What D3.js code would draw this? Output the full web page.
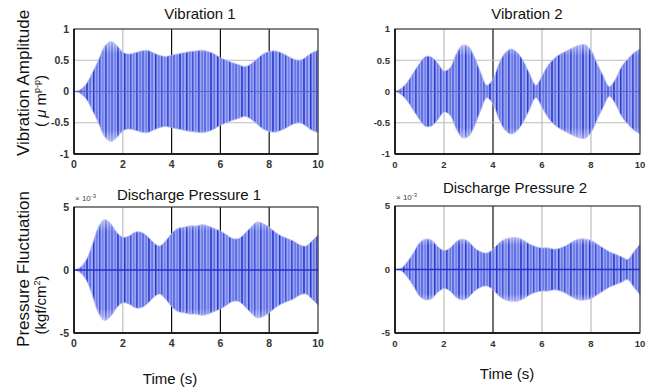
<!DOCTYPE html>
<html>
<head>
<meta charset="utf-8">
<script src="https://cdn.jsdelivr.net/npm/d3@7"></script>
<style>
body { margin: 0; background: #fff; }
svg text { font-family: "Liberation Sans", Arial, sans-serif; }
</style>
</head>
<body>
<svg width="650" height="390"></svg>
<script>
// sample times (s) at which the envelopes were read
var times = [0,0.25,0.5,0.75,1,1.25,1.5,1.75,2,2.25,2.5,2.75,3,3.25,3.5,3.75,4,4.25,4.5,4.75,
             5,5.25,5.5,5.75,6,6.25,6.5,6.75,7,7.25,7.5,7.75,8,8.25,8.5,8.75,9,9.25,9.5,9.75,10];

// envelope amplitude of each signal
var vib1 = [0,0.03,0.12,0.3,0.5,0.72,0.8,0.74,0.63,0.6,0.62,0.65,0.66,0.62,0.58,0.56,0.58,0.6,0.62,0.64,
            0.65,0.66,0.64,0.6,0.54,0.5,0.46,0.43,0.4,0.44,0.52,0.6,0.64,0.65,0.62,0.57,0.52,0.5,0.55,0.62,0.66];
var vib2 = [0,0.05,0.15,0.3,0.45,0.56,0.55,0.45,0.33,0.38,0.6,0.74,0.72,0.55,0.3,0.1,0.2,0.45,0.62,0.68,
            0.62,0.48,0.28,0.1,0.25,0.42,0.53,0.6,0.65,0.7,0.74,0.75,0.66,0.45,0.25,0.08,0.2,0.4,0.52,0.62,0.68];
var dp1 = [0,0.2,0.8,2.0,3.4,4.0,3.7,3.0,2.6,2.7,3.0,3.0,2.7,2.2,1.9,2.3,2.9,3.3,3.4,3.5,
           3.5,3.6,3.5,3.3,3.1,2.8,2.5,2.5,2.9,3.4,3.8,3.7,3.4,3.0,2.7,2.5,2.3,2.0,1.9,2.3,2.8];
var dp2 = [0,0.1,0.6,1.3,2.1,2.4,2.3,1.8,1.5,1.7,2.2,2.4,2.2,1.7,1.4,1.3,1.6,2.1,2.4,2.5,
           2.5,2.3,2.0,1.8,1.7,1.7,1.6,1.7,1.9,2.2,2.4,2.4,2.3,2.0,1.7,1.4,1.2,1.0,0.8,1.4,2.0];

var xTicks = [0, 2, 4, 6, 8, 10];
var vibTicks = [1, 0.5, 0, -0.5, -1];
var vibTickLabels = ["1", "0.5", "0", "-0.5", "-1"];
var dpTicks = [5, 0, -5];
var dpTickLabels = ["5", "0", "-5"];

var svg = d3.select("svg");

// oscillation texture: light band with irregular dark stripes
var defs = svg.append("defs");
var pat = defs.append("pattern").attr("id", "osc")
    .attr("patternUnits", "userSpaceOnUse").attr("width", 31).attr("height", 10);
pat.append("rect").attr("width", 31).attr("height", 10).attr("fill", "#9ba6f2");
var stripes = [[0.8, 1, 1.3], [3.9, 0.55, 1], [6.8, 0.85, 1.2], [9.9, 0.45, 1], [12.9, 0.95, 1.3],
               [16.1, 0.6, 1], [19.0, 0.8, 1.1], [22.1, 0.5, 1], [25.0, 1, 1.4], [28.1, 0.65, 1]];
stripes.forEach(function(s) {
  pat.append("line").attr("x1", s[0]).attr("x2", s[0]).attr("y1", 0).attr("y2", 10)
      .attr("stroke", "#1627cc").attr("stroke-width", s[2]).attr("opacity", s[1]);
});
var fade = defs.append("linearGradient").attr("id", "fade")
    .attr("x1", 0).attr("x2", 0).attr("y1", 0).attr("y2", 1);
fade.append("stop").attr("offset", "0%").attr("stop-color", "#fff").attr("stop-opacity", 0.45);
fade.append("stop").attr("offset", "12%").attr("stop-color", "#fff").attr("stop-opacity", 0);
fade.append("stop").attr("offset", "88%").attr("stop-color", "#fff").attr("stop-opacity", 0);
fade.append("stop").attr("offset", "100%").attr("stop-color", "#fff").attr("stop-opacity", 0.45);

var panels = [
  {title: "Vibration 1", data: vib1, left: 74, right: 318, top: 29, bottom: 154, dom: [-1, 1],
   ticks: vibTicks, labels: vibTickLabels, tickFont: 10.5, titleX: 200, titleY: 19, darkGrid: [4, 6, 8], hGrid: [0.5, -0.5], exp: false},
  {title: "Vibration 2", data: vib2, left: 395, right: 640, top: 29, bottom: 154, dom: [-1, 1],
   ticks: vibTicks, labels: vibTickLabels, tickFont: 9.5, titleX: 527, titleY: 19, darkGrid: [4], hGrid: [0.5, -0.5], exp: false},
  {title: "Discharge Pressure 1", data: dp1, left: 74, right: 318, top: 207, bottom: 333, dom: [-5, 5],
   ticks: dpTicks, labels: dpTickLabels, tickFont: 10.5, titleX: 189, titleY: 200, darkGrid: [4, 6, 8], hGrid: [], exp: true},
  {title: "Discharge Pressure 2", data: dp2, left: 395, right: 640, top: 206, bottom: 333, dom: [-5, 5],
   ticks: dpTicks, labels: dpTickLabels, tickFont: 9.5, titleX: 515, titleY: 193, darkGrid: [4], hGrid: [], exp: true}
];

panels.forEach(function(p) {
  var x = d3.scaleLinear().domain([0, 10]).range([p.left, p.right]);
  var y = d3.scaleLinear().domain(p.dom).range([p.bottom, p.top]);
  var g = svg.append("g");
  var rows = times.map(function(t, k) { return {t: t, a: p.data[k]}; });

  // grid
  g.selectAll(".vg").data(xTicks.slice(1, -1)).enter().append("line")
      .attr("x1", function(d) { return x(d); }).attr("x2", function(d) { return x(d); })
      .attr("y1", p.top).attr("y2", p.bottom)
      .attr("stroke", function(d) { return p.darkGrid.indexOf(d) >= 0 ? "#111" : "#bdbdbd"; })
      .attr("stroke-width", 1.2);
  g.selectAll(".hg").data(p.hGrid).enter().append("line")
      .attr("x1", p.left).attr("x2", p.right)
      .attr("y1", function(d) { return y(d); }).attr("y2", function(d) { return y(d); })
      .attr("stroke", "#bdbdbd").attr("stroke-width", 1.2);

  // signal band
  var area = d3.area().curve(d3.curveCatmullRom)
      .x(function(d) { return x(d.t); })
      .y0(function(d) { return y(-d.a); })
      .y1(function(d) { return y(d.a); });
  g.append("path").datum(rows).attr("d", area)
      .attr("fill", "url(#osc)").attr("stroke", "#b4bcf5").attr("stroke-width", 0.8);
  g.append("path").datum(rows).attr("d", area).attr("fill", "url(#fade)");

  // zero line
  g.append("line").attr("x1", p.left).attr("x2", p.right)
      .attr("y1", y(0)).attr("y2", y(0))
      .attr("stroke", p.exp ? "#2233c8" : "#5563c4").attr("stroke-width", p.exp ? 1.6 : 1.2);

  // frame
  g.append("rect").attr("x", p.left).attr("y", p.top)
      .attr("width", p.right - p.left).attr("height", p.bottom - p.top)
      .attr("fill", "none").attr("stroke", "#333").attr("stroke-width", 1.2);
  g.append("line").attr("x1", p.left).attr("x2", p.left).attr("y1", p.top).attr("y2", p.bottom)
      .attr("stroke", "#000").attr("stroke-width", 1.5);
  g.append("line").attr("x1", p.left).attr("x2", p.right).attr("y1", p.bottom).attr("y2", p.bottom)
      .attr("stroke", "#000").attr("stroke-width", 1.5);

  // tick labels
  g.selectAll(".yt").data(p.ticks).enter().append("text")
      .attr("x", p.left - 5).attr("y", function(d) { return y(d) + p.tickFont * 0.35; })
      .attr("text-anchor", "end").attr("font-size", p.tickFont).attr("fill", "#333")
      .attr("font-weight", "bold")
      .text(function(d, k) { return p.labels[k]; });
  g.selectAll(".xt").data(xTicks).enter().append("text")
      .attr("x", function(d) { return x(d); }).attr("y", p.bottom + 14)
      .attr("text-anchor", "middle").attr("font-size", p.tickFont).attr("fill", "#333")
      .attr("font-weight", "bold")
      .text(function(d) { return d; });

  if (p.exp) {
    var e = g.append("text").attr("x", p.left + 1).attr("y", p.top - 6)
        .attr("font-size", 8).attr("fill", "#444");
    e.append("tspan").text("\u00d7 10");
    e.append("tspan").attr("dy", -3).attr("font-size", 6).text("-3");
  }

  g.append("text").attr("x", p.titleX).attr("y", p.titleY)
      .attr("text-anchor", "middle").attr("font-size", 15).attr("fill", "#111")
      .text(p.title);
});

// axis titles
function rotLabel(cx, cy, size) {
  return svg.append("text").attr("transform", "translate(" + cx + "," + cy + ") rotate(-90)")
      .attr("text-anchor", "middle").attr("font-size", size).attr("fill", "#111");
}
rotLabel(29, 83, 17).text("Vibration Amplitude");
var u1 = rotLabel(46, 101, 15);
u1.append("tspan").text("( ");
u1.append("tspan").attr("font-style", "italic").text("\u03bc");
u1.append("tspan").text(" m");
u1.append("tspan").attr("dy", -6).attr("font-size", 9).text("p-p");
u1.append("tspan").attr("dy", 6).text(")");

rotLabel(29, 269, 17).text("Pressure Fluctuation");
var u2 = rotLabel(46, 305, 15);
u2.append("tspan").text("(kgf/cm");
u2.append("tspan").attr("dy", -6).attr("font-size", 9).text("2");
u2.append("tspan").attr("dy", 6).text(")");

svg.append("text").attr("x", 170).attr("y", 384).attr("text-anchor", "middle")
    .attr("font-size", 15).attr("fill", "#111").text("Time (s)");
svg.append("text").attr("x", 507).attr("y", 379).attr("text-anchor", "middle")
    .attr("font-size", 15).attr("fill", "#111").text("Time (s)");
</script>
</body>
</html>
